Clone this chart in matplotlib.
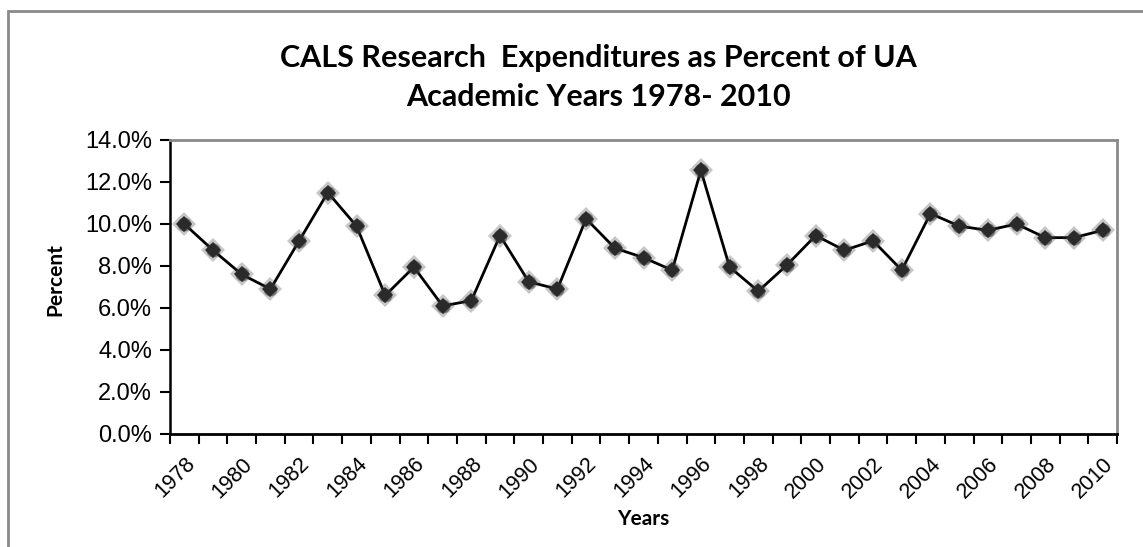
import matplotlib
matplotlib.use('Agg')
import matplotlib.pyplot as plt
from matplotlib.patches import Rectangle
from matplotlib.ticker import FuncFormatter, FixedLocator

# Data
years = list(range(1978, 2011))
percent = [10.0, 8.75, 7.6, 6.9, 9.2, 11.5, 9.9, 6.6, 7.95, 6.1, 6.35,
           9.45, 7.25, 6.9, 10.25, 8.85, 8.4, 7.8, 12.55, 7.95, 6.8, 8.05,
           9.45, 8.75, 9.2, 7.8, 10.5, 9.9, 9.7, 10.0, 9.35, 9.35, 9.7]
y_ticks = [0, 2, 4, 6, 8, 10, 12, 14]

title_font = ['Lato', 'DejaVu Sans']
tick_font = ['Liberation Sans', 'DejaVu Sans']

W, H = 1143, 547
fig = plt.figure(figsize=(W / 100, H / 100), dpi=100)

# outer chart frame (cropped at right/bottom in the reference)
fig.patches.append(Rectangle((8 / W, -0.1), 1.2, 1 - 11 / H + 0.1,
                             transform=fig.transFigure, fill=False,
                             edgecolor='#8a8a8a', linewidth=2))

left, right, top, bottom = 170, 1117, 140, 434
ax = fig.add_axes([left / W, 1 - bottom / H, (right - left) / W, (bottom - top) / H])

x = list(range(len(years)))
ax.plot(x, percent, color='black', linewidth=2, zorder=2)
# blurry dark markers: soft halo + core
ax.plot(x, percent, linestyle='none', marker='D', markersize=12,
        color='#444444', alpha=0.3, markeredgewidth=0, zorder=3)
ax.plot(x, percent, linestyle='none', marker='o', markersize=10,
        color='#3a3a3a', alpha=0.6, markeredgewidth=0, zorder=4)
ax.plot(x, percent, linestyle='none', marker='D', markersize=8,
        color='#2a2a2a', markeredgewidth=0, zorder=5)

ax.set_xlim(-0.5, len(years) - 0.5)
ax.set_ylim(0, 14)

ax.yaxis.set_major_locator(FixedLocator(y_ticks))
ax.yaxis.set_major_formatter(FuncFormatter(lambda v, p: f'{v:.1f}%'))

# category axis: ticks on boundaries, labels every second year
ax.xaxis.set_major_locator(FixedLocator(x[::2]))
ax.set_xticklabels([str(y) for y in years[::2]])
ax.xaxis.set_minor_locator(FixedLocator([i - 0.5 for i in range(len(years) + 1)]))
ax.tick_params(axis='x', which='major', length=0, pad=14)
ax.tick_params(axis='x', which='minor', length=7, width=1.5, direction='out')
ax.tick_params(axis='y', length=7, width=1.5, direction='out', pad=6)

for lab in ax.get_xticklabels():
    lab.set_rotation(45)
    lab.set_ha('right')
    lab.set_rotation_mode('anchor')
    lab.set_fontsize(15.5)
    lab.set_family(tick_font)
for lab in ax.get_yticklabels():
    lab.set_fontsize(17)
    lab.set_family(tick_font)

ax.spines['left'].set_linewidth(1.8)
ax.spines['bottom'].set_linewidth(2)
for side in ('top', 'right'):
    ax.spines[side].set_color('#8a8a8a')
    ax.spines[side].set_linewidth(2)

title_x = 598 / W
fig.text(title_x, 1 - 67 / H, 'CALS Research  Expenditures as Percent of UA',
         ha='center', va='baseline', fontsize=22, fontweight='bold',
         family=title_font)
fig.text(title_x, 1 - 106 / H, 'Academic Years 1978- 2010',
         ha='center', va='baseline', fontsize=22, fontweight='bold',
         family=title_font)

fig.text(55 / W, 1 - 280 / H, 'Percent', rotation=90, ha='center',
         va='center', fontsize=15, fontweight='bold', family=title_font)
fig.text((left + right) / 2 / W, 1 - 519 / H, 'Years', ha='center',
         va='center', fontsize=15, fontweight='bold', family=title_font)

fig.savefig('out.png', dpi=100)
